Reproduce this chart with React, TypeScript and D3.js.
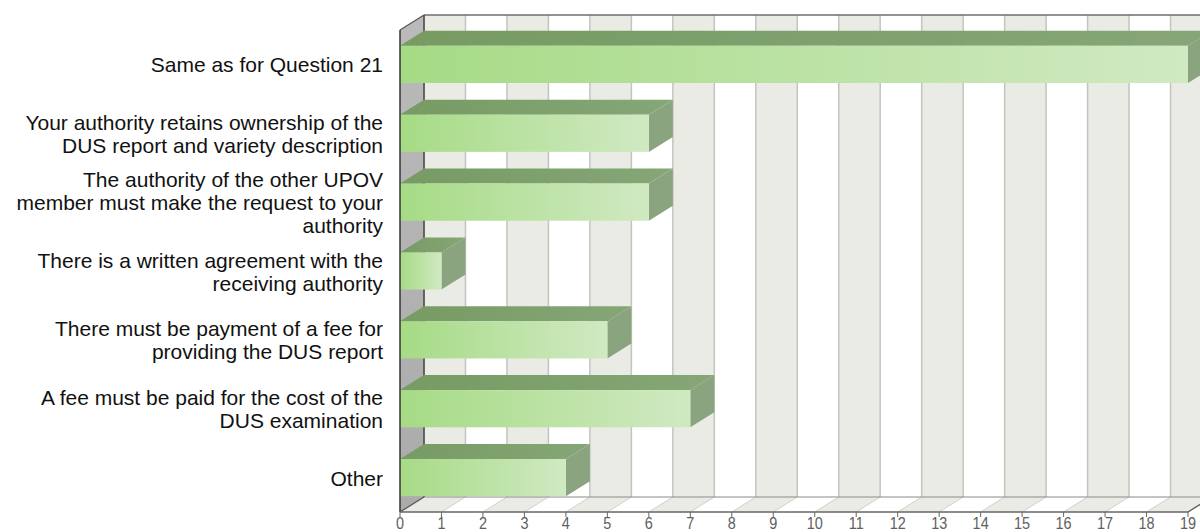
import React from "react";
import * as d3 from "d3";

const labels: string[][] = [
  ["Same as for Question 21"],
  ["Your authority retains ownership of the", "DUS report and variety description"],
  ["The authority of the other UPOV", "member must make the request to your", "authority"],
  ["There is a written agreement with the", "receiving authority"],
  ["There must be payment of a fee for", "providing the DUS report"],
  ["A fee must be paid for the cost of the", "DUS examination"],
  ["Other"],
];
const values: number[] = [19, 6, 6, 1, 5, 7, 4];
const ticks: number[] = d3.range(0, 20);

const W = 1200;
const H = 532;
const DX = 24;
const DY = -15;

export default function App() {
  const keys = labels.map((_, i) => String(i));
  const x = d3.scaleLinear().domain([0, 19]).range([400, 1188]);
  const y = d3.scaleBand<string>().domain(keys).range([30, 512]).paddingInner(0.46).paddingOuter(0.23);
  const step = y.step();
  const top = 30;
  const bottom = 512;
  const x0 = x(0);
  const xMax = x(19);

  const poly = (pts: [number, number][]) => pts.map((p) => p.join(",")).join(" ");

  return (
    <div style={{ position: "absolute", left: 0, top: 0 }}>
      <svg width={W} height={H} style={{ display: "block", background: "#fff" }}>
        <defs>
          <linearGradient id="front" x1="0" x2="1" y1="0" y2="0">
            <stop offset="0" stopColor="#a6db85" />
            <stop offset="1" stopColor="#d0e9c2" />
          </linearGradient>
          <linearGradient id="topf" x1="0" x2="1" y1="0" y2="0">
            <stop offset="0" stopColor="#779b63" />
            <stop offset="1" stopColor="#86a677" />
          </linearGradient>
          <linearGradient id="leftwall" x1="0" x2="0" y1="0" y2="1">
            <stop offset="0" stopColor="#bababa" />
            <stop offset="1" stopColor="#ababab" />
          </linearGradient>
        </defs>

        {/* back wall stripes */}
        {ticks.slice(0, 19).map((t) => (
          <rect
            key={"bw" + t}
            x={x(t) + DX}
            y={top + DY}
            width={x(t + 1) - x(t)}
            height={bottom - top}
            fill={t % 2 === 0 ? "#ebebe5" : "#ffffff"}
          />
        ))}
        {/* floor stripes */}
        {ticks.slice(0, 19).map((t) => (
          <polygon
            key={"fl" + t}
            points={poly([
              [x(t), bottom],
              [x(t + 1), bottom],
              [x(t + 1) + DX, bottom + DY],
              [x(t) + DX, bottom + DY],
            ])}
            fill={t % 2 === 0 ? "#ebebe5" : "#ffffff"}
          />
        ))}
        {/* grid lines on back wall and floor */}
        {ticks.map((t) => (
          <g key={"gl" + t}>
            <line x1={x(t) + DX} x2={x(t) + DX} y1={top + DY} y2={bottom + DY} stroke="#c4c4c0" strokeWidth={1.5} />
            <line x1={x(t)} y1={bottom} x2={x(t) + DX} y2={bottom + DY} stroke="#cfcfcb" strokeWidth={1} />
          </g>
        ))}
        {/* back wall top edge and floor back edge */}
        <line x1={x0 + DX} x2={xMax + DX} y1={top + DY} y2={top + DY} stroke="#6e6e6e" strokeWidth={1.5} />
        <line x1={x0 + DX} x2={xMax + DX} y1={bottom + DY} y2={bottom + DY} stroke="#8a8a8a" strokeWidth={1} />
        {/* left wall */}
        <polygon
          points={poly([
            [x0, top],
            [x0 + DX, top + DY],
            [x0 + DX, bottom + DY],
            [x0, bottom],
          ])}
          fill="url(#leftwall)"
        />
        <line x1={x0 + DX} x2={x0 + DX} y1={top + DY} y2={bottom + DY} stroke="#444" strokeWidth={1.5} />
        <line x1={x0} y1={top} x2={x0 + DX} y2={top + DY} stroke="#555" strokeWidth={1.2} />
        <line x1={x0} y1={bottom} x2={x0 + DX} y2={bottom + DY} stroke="#555" strokeWidth={1.2} />
        <line x1={xMax} y1={bottom} x2={xMax + DX} y2={bottom + DY} stroke="#555" strokeWidth={1.2} />

        {/* bars */}
        {values.map((v, i) => {
          const by = y(String(i))!;
          const bh = y.bandwidth();
          const xr = x(v);
          return (
            <g key={"bar" + i}>
              <polygon
                points={poly([
                  [xr, by],
                  [xr + DX, by + DY],
                  [xr + DX, by + bh + DY],
                  [xr, by + bh],
                ])}
                fill="#8aa47f"
              />
              <polygon
                points={poly([
                  [x0, by],
                  [x0 + DX, by + DY],
                  [xr + DX, by + DY],
                  [xr, by],
                ])}
                fill="url(#topf)"
              />
              <rect x={x0} y={by} width={xr - x0} height={bh} fill="url(#front)" />
            </g>
          );
        })}

        {/* front edges */}
        <line x1={x0} x2={x0} y1={top} y2={bottom} stroke="#333" strokeWidth={1.5} />
        <line x1={x0} x2={xMax} y1={bottom} y2={bottom} stroke="#666" strokeWidth={1.5} />

        {/* ticks and tick labels */}
        {ticks.map((t) => (
          <g key={"tk" + t}>
            <line x1={x(t)} x2={x(t)} y1={bottom} y2={bottom + 5} stroke="#666" strokeWidth={1} />
            <text
              transform={`translate(${x(t)},529) scale(0.85,1)`}
              textAnchor="middle"
              fontFamily="'Liberation Sans Narrow', 'Arial Narrow', 'Liberation Sans', Arial, sans-serif"
              fontSize={17}
              fill="#606060"
            >
              {t}
            </text>
          </g>
        ))}

        {/* category labels */}
        {labels.map((lines, i) => {
          const cy = top + step * (i + 0.5);
          const lh = 23;
          const first = cy - ((lines.length - 1) * lh) / 2;
          return (
            <text
              key={"lab" + i}
              x={383}
              textAnchor="end"
              fontFamily="'Liberation Sans', Arial, Helvetica, sans-serif"
              fontSize={21}
              fill="#111"
              dominantBaseline="central"
            >
              {lines.map((ln, j) => (
                <tspan key={j} x={383} y={first + j * lh}>
                  {ln}
                </tspan>
              ))}
            </text>
          );
        })}
      </svg>
    </div>
  );
}
